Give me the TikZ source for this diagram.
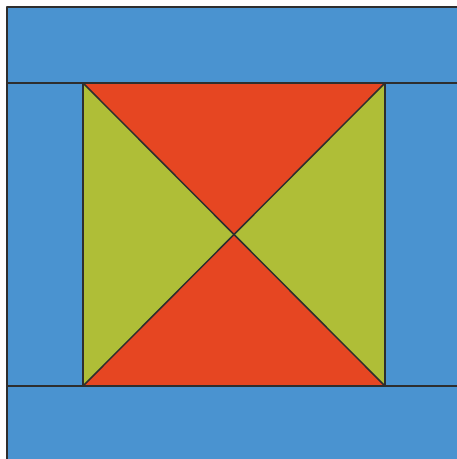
\documentclass[tikz,border=0pt]{standalone}
\definecolor{qblue}{HTML}{4A93D0}
\definecolor{qred}{HTML}{E64622}
\definecolor{qgreen}{HTML}{AFBE37}
\definecolor{qline}{HTML}{2E2E2E}
\tikzset{edge/.style={draw=qline,line width=1.5pt,line join=round}}
\begin{document}
\begin{tikzpicture}[x=1pt,y=-1pt]
\useasboundingbox (0,0) rectangle (457,459);
\fill[white] (0,0) rectangle (457,459);
\fill[qblue] (7,7) rectangle (457,459);
\coordinate (tl) at (83,83);
\coordinate (tr) at (385,83);
\coordinate (br) at (385,386);
\coordinate (bl) at (83,386);
\coordinate (c) at (234,234.5);
\fill[qred] (tl) -- (tr) -- (c) -- cycle;
\fill[qred] (bl) -- (br) -- (c) -- cycle;
\fill[qgreen] (tl) -- (bl) -- (c) -- cycle;
\fill[qgreen] (tr) -- (br) -- (c) -- cycle;
\draw[edge] (7,83) -- (457,83);
\draw[edge] (7,386) -- (457,386);
\draw[edge] (tl) -- (bl);
\draw[edge] (tr) -- (br);
\draw[edge] (tl) -- (br);
\draw[edge] (tr) -- (bl);
\draw[edge] (7,459) -- (7,7) -- (457,7);
\end{tikzpicture}
\end{document}
